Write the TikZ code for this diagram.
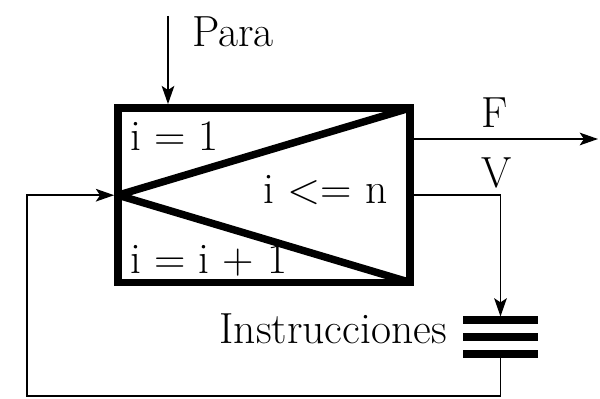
\documentclass[tikz,border=0pt]{standalone}
\usepackage{tikz}
\usetikzlibrary{positioning, arrows.meta}

\begin{document}
\begin{tikzpicture}[
    block/.style={draw=black, line width=5.5pt, rectangle, inner sep=0pt, outer sep=0pt, minimum width=7.3cm, minimum height=4.36cm},
    wedge/.style={line width=5.3pt, line join=bevel},
    barline/.style={line width=5pt},
    edge/.style={line width=1.2pt},
    arrow/.style={edge, -{Stealth[length=13pt, width=9pt, inset=3pt]}},
    varlabel/.style={inner sep=0pt, font=\fontsize{31}{34}\selectfont}
]
\useasboundingbox (0,0) rectangle (15,9.95);

% Knoten
\node[block] (box) at (6.6,5.07) {};
\node[inner sep=0pt, outer sep=0pt, minimum width=1.875cm, minimum height=0.85cm] (instr) at (12.5125,1.525) {};
\coordinate (parastart) at (4.2,9.55);
\coordinate (fend) at (14.95,6.475);
\coordinate (loopcorner) at (0.675,0.05);

% Texte
\node[varlabel, anchor=base west] (init) at ([xshift=0.3cm, yshift=-1.05cm]box.north west) {i = 1};
\node[varlabel, anchor=base east] (cond) at ([xshift=-0.55cm, yshift=-0.2cm]box.east) {i <= n};
\node[varlabel, anchor=base west] (incr) at ([xshift=0.3cm, yshift=0.225cm]box.south west) {i = i + 1};
\node[varlabel, anchor=base west] (para) at ([xshift=0.6cm, yshift=-0.775cm]parastart) {Para};
\node[varlabel, anchor=base] (flabel) at (12.375,6.775) {F};
\node[varlabel, anchor=base] (vlabel) at (12.425,5.25) {V};
\node[varlabel, anchor=base east] (instrlabel) at ([xshift=-0.4cm, yshift=-0.15cm]instr.west) {Instrucciones};

% Keil im Block
\draw[wedge] (box.north east) -- (box.west) -- (box.south east);

% Instruktionssymbol
\draw[barline] (instr.north west) -- (instr.north east);
\draw[barline] (instr.west) -- (instr.east);
\draw[barline] (instr.south west) -- (instr.south east);

% Kanten
\draw[arrow, shorten >=2.75pt] (parastart) -- (parastart |- box.north);
\draw[arrow] (box.east |- fend) -- (fend);
\draw[arrow, shorten >=2.5pt] (box.east) -| (instr.north);
\draw[arrow, shorten >=2.75pt] (instr.south) |- (loopcorner) |- (box.west);

\end{tikzpicture}
\end{document}
